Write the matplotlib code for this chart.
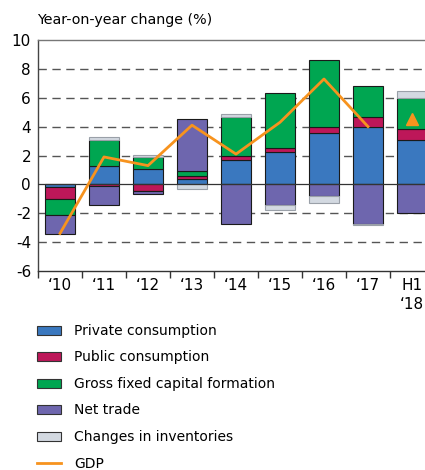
import matplotlib
matplotlib.use("Agg")
import matplotlib.pyplot as plt
import numpy as np
from matplotlib.patches import Patch
from matplotlib.lines import Line2D

plt.rcParams['font.family'] = ['DejaVu Sans']
plt.rcParams['axes.unicode_minus'] = False

# values (percentage points)
years = ["\u201810", "\u201811", "\u201812", "\u201813", "\u201814", "\u201815", "\u201816", "\u201817", "H1\n\u201818"]
private = [-0.2, 1.3, 1.05, 0.4, 1.7, 2.25, 3.55, 4.0, 3.1]
public = [-0.8, -0.1, -0.45, 0.2, 0.3, 0.3, 0.45, 0.7, 0.75]
gfcf = [-1.15, 1.8, 0.85, 0.35, 2.7, 3.75, 4.6, 2.1, 2.15]
net_trade = [-1.3, -1.3, -0.25, 3.55, -2.75, -1.4, -0.8, -2.75, -1.95]
inventories = [0.0, 0.2, 0.12, -0.35, 0.2, -0.4, -0.5, -0.05, 0.5]
gdp = [-3.4, 1.9, 1.3, 4.1, 2.1, 4.3, 7.3, 4.0]
gdp_h1 = 4.5

series = [
    ("Private consumption", private, "#3a78bf"),
    ("Public consumption", public, "#bd1759"),
    ("Gross fixed capital formation", gfcf, "#00a651"),
    ("Net trade", net_trade, "#6e66ae"),
    ("Changes in inventories", inventories, "#d3d9e1"),
]
gdp_color = "#f7931e"

fig = plt.figure(figsize=(4.25, 4.7), dpi=100)
ax = fig.add_axes([38 / 425, 1 - 271 / 470, 396 / 425, 231 / 470])

x = np.arange(len(years))
pos_base = np.zeros(len(years))
neg_base = np.zeros(len(years))

for name, vals, col in series:
    v = np.array(vals)
    base = np.where(v >= 0, pos_base, neg_base)
    ec = "#9aa0a8" if name == "Changes in inventories" else "#1a1a1a"
    ax.bar(x, v, 0.7, bottom=base, color=col, edgecolor=ec, linewidth=0.8, zorder=3)
    pos_base += np.where(v >= 0, v, 0)
    neg_base += np.where(v < 0, v, 0)

ax.plot(x[:len(gdp)], gdp, color=gdp_color, lw=2.0, zorder=4)
ax.plot([x[-1]], [gdp_h1], marker="^", color=gdp_color, ms=8, ls="none", zorder=4)

ax.set_xlim(-0.5, 8.5)
ax.set_ylim(-6, 10)
ax.set_yticks(np.arange(-6, 11, 2))
for g in [-4, -2, 2, 4, 6, 8]:
    ax.axhline(g, color="#555555", lw=1.0, ls=(0, (6, 4)), zorder=1)
ax.axhline(0, color="#333333", lw=0.9, zorder=3.5)

ax.set_xticks(x)
ax.set_xticklabels(years, fontsize=11, linespacing=1.3)
ax.set_xticks(np.arange(-0.5, 9, 1), minor=True)
ax.tick_params(axis="x", which="major", length=0, pad=5)
ax.tick_params(axis="x", which="minor", length=5, width=1, color="#333333", direction="out")
ax.tick_params(axis="y", length=0, labelsize=11, pad=5)
for lab in ax.get_xticklabels():
    lab.set_verticalalignment("top")

ax.spines["right"].set_visible(False)
ax.spines["top"].set_color("#777777")
ax.spines["left"].set_color("#444444")
ax.spines["bottom"].set_color("#333333")
for s in ax.spines.values():
    s.set_linewidth(1.0)

fig.text(37 / 425, 1 - 20 / 470, "Year-on-year change (%)", fontsize=10.3, va="center", ha="left")

handles = [Patch(facecolor=col, edgecolor="#333333", linewidth=0.8) for _, _, col in series]
handles.append(Line2D([0], [0], color=gdp_color, lw=2))
labels = [s[0] for s in series] + ["GDP"]
fig.legend(handles, labels, loc="upper left", bbox_to_anchor=(37 / 425, 1 - 324 / 470),
           frameon=False, fontsize=10, labelspacing=0.9, handlelength=1.7,
           handleheight=0.6, handletextpad=1.0, borderpad=0, borderaxespad=0)

fig.savefig("out.png", dpi=100)
